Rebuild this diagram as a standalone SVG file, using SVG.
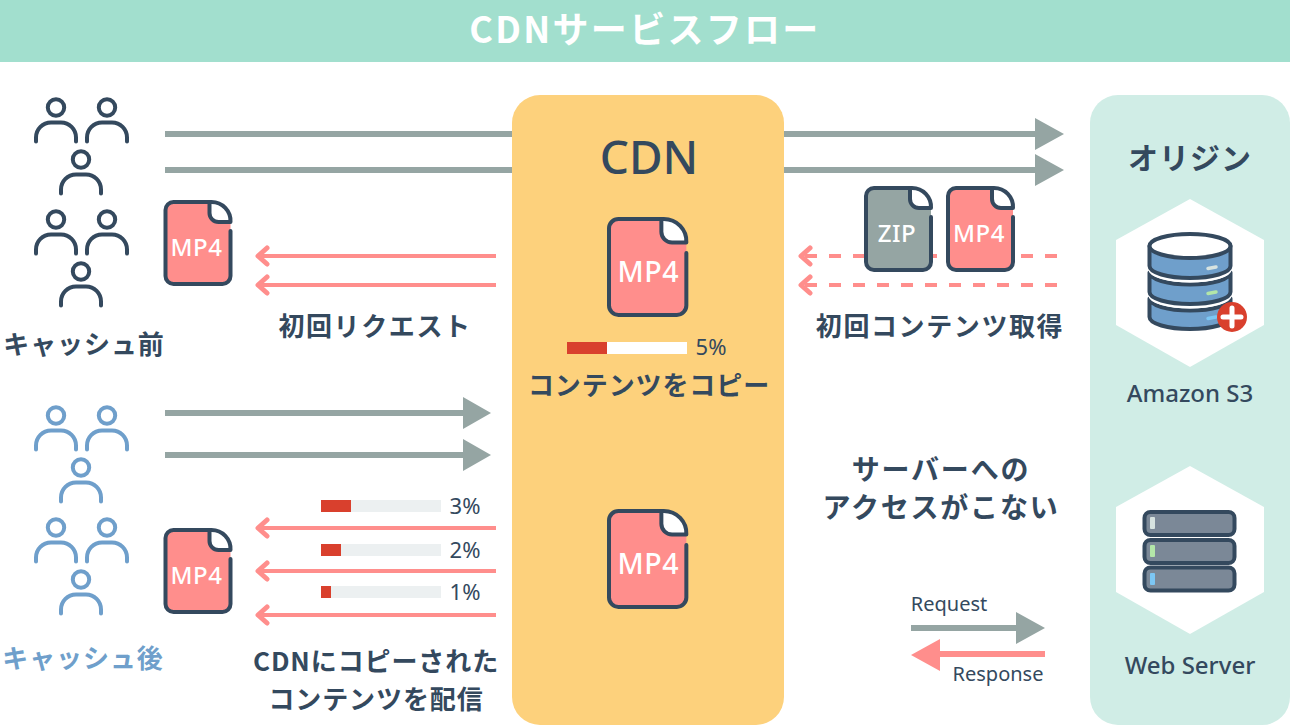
<svg xmlns="http://www.w3.org/2000/svg" width="1290" height="725" viewBox="0 0 1290 725">
<style>
text{font-family:"Noto Sans CJK JP","Noto Sans",sans-serif;font-weight:700;fill:#34495e;text-anchor:middle}
.l{font-family:"Noto Sans","Noto Sans CJK JP",sans-serif}
.g{stroke:#95a5a3;stroke-width:6;fill:none}
.p{stroke:#ff8e8c;stroke-width:4;fill:none}
.c{stroke:#ff8e8c;stroke-width:5;fill:none;stroke-linecap:round;stroke-linejoin:round}
.d{stroke-dasharray:12 12}
.ag{fill:#95a5a3}
.ic{stroke:currentColor;stroke-width:4;fill:none;stroke-linecap:round;stroke-linejoin:round}
.fn{font-family:"Noto Sans",sans-serif;font-weight:500;fill:#fff;font-size:24px;letter-spacing:.5px}
.t{font-size:26px;letter-spacing:.9px}
.w{letter-spacing:1.600px}
.x{font-size:28px;letter-spacing:1.800px}
.pc{font-family:"Noto Sans",sans-serif;font-size:22px;font-weight:400}
.rq{font-family:"Noto Sans",sans-serif;font-size:20px;font-weight:400}
.band{fill:#6f9fcb;stroke:#34495e;stroke-width:4;stroke-linejoin:round}
.gap{fill:none;stroke:#fff;stroke-width:2.500}
</style>
<defs>
<g id="person" class="ic"><circle cx="0" cy="0" r="8.200"/><path d="M-20 34v-4a15 15 0 0 1 15-15h10a15 15 0 0 1 15 15v4"/></g>
<g id="crowd">
<use href="#person" x="56" y="0"/><use href="#person" x="107" y="0"/><use href="#person" x="81" y="52"/>
<use href="#person" x="56" y="112"/><use href="#person" x="107" y="112"/><use href="#person" x="81" y="164"/>
</g>
<g id="outline">
<path d="M44 0H8a8 8 0 0 0-8 8v66a8 8 0 0 0 8 8h49a8 8 0 0 0 8-8V29" fill="none" stroke="#34495e" stroke-width="4" stroke-linecap="round" vector-effect="non-scaling-stroke"/>
<path d="M44 0h2a19 19 0 0 1 19 20H53a9 9 0 0 1-9-9z" fill="#fff" stroke="#34495e" stroke-width="4" stroke-linejoin="round" vector-effect="non-scaling-stroke"/>
</g>
<path id="sheet" d="M8 0h38a19 19 0 0 1 19 19v55a8 8 0 0 1-8 8H8a8 8 0 0 1-8-8V8a8 8 0 0 1 8-8z"/>
<g id="pinkfile"><use href="#sheet" fill="#ff8e8c"/><use href="#outline"/></g>
<g id="grayfile"><use href="#sheet" fill="#95a5a3"/><use href="#outline"/></g>
<path id="hexa" d="M74 0l74 41v85l-74 42L0 126V41z" fill="#fff"/>
</defs>
<g id="header"><rect width="1290" height="62" fill="#a2dfce"/><text x="645" y="43" font-size="36" letter-spacing="2.300" style="fill:#fff">CDNサービスフロー</text></g>
<g id="connectors">
<path class="g" d="M165 134H1040M165 170H1040M165 413H466M165 455H466M911 628H1020"/>
<path class="ag" d="M1035 118l29 16-29 16zM1035 154l29 16-29 16zM463 397l28 16-28 16zM463 439l28 16-28 16zM1016 612l29 16-29 16z"/>
<path class="p" d="M496 256H260M496 285H260M496 528H260M496 571H260M496 615H260"/>
<path class="p d" d="M1057 256H804M1057 285H804"/>
<path class="c" d="M267 248l-9 8 9 8M267 277l-9 8 9 8M267 520l-9 8 9 8M267 563l-9 8 9 8M267 607l-9 8 9 8M810 248l-9 8 9 8M810 277l-9 8 9 8"/>
<path d="M1045 654H935" stroke="#ff8e8c" stroke-width="6" fill="none"/><path fill="#ff8e8c" d="M940 639v32l-29-16z"/>
</g>
<g id="cdn"><rect x="512" y="95" width="272" height="630" rx="28" fill="#fdd17c"/>
<text x="649" y="174" font-size="46" class="l" style="font-weight:500">CDN</text>
<g transform="translate(609 219) scale(1.190 1.170)"><use href="#pinkfile"/><text class="fn" x="33" y="54">MP4</text></g>
<rect x="567" y="342" width="120" height="12" fill="#fff"/><rect x="567" y="342" width="40" height="12" fill="#d9402d"/>
<text class="pc" x="711" y="355">5%</text>
<text class="t" x="649" y="395">コンテンツをコピー</text>
<g transform="translate(609 511) scale(1.190 1.170)"><use href="#pinkfile"/><text class="fn" x="33" y="54">MP4</text></g>
</g>
<g id="origin"><rect x="1090" y="95" width="200" height="630" rx="28" fill="#d0ede6"/>
<text x="1190" y="169" font-size="30" letter-spacing="1">オリジン</text>
<use href="#hexa" x="1116" y="199"/>
<path class="band" d="M1149.500 298.500v18.500a40.500 12 0 0 0 81 0v-18.500a40.500 12 0 0 1-81 0z"/>
<path class="gap" d="M1149.500 295.200a40.500 12 0 0 0 81 0"/>
<path class="band" d="M1149.500 272.500v19.500a40.500 12 0 0 0 81 0v-19.500a40.500 12 0 0 1-81 0z"/>
<path class="gap" d="M1149.500 269.200a40.500 12 0 0 0 81 0"/>
<path class="band" d="M1149.500 246v20a40.500 12 0 0 0 81 0v-20z"/>
<ellipse cx="1190" cy="246" rx="40.500" ry="12" fill="#fff" stroke="#34495e" stroke-width="4"/>
<path d="M1208 268.500l8-1.500" stroke="#d7e3e0" stroke-width="3.500" stroke-linecap="round"/><path d="M1208 293.500l8-1.500" stroke="#b3e6a8" stroke-width="3.500" stroke-linecap="round"/><path d="M1208 318.500l8-1.500" stroke="#7cc7f4" stroke-width="3.500" stroke-linecap="round"/>
<circle cx="1232" cy="317" r="15" fill="#d9402d"/><path d="M1223 317h18M1232 308v18" stroke="#fff" stroke-width="5" stroke-linecap="round"/>
<text x="1190" y="402" font-size="24" class="l" style="font-weight:500">Amazon S3</text>
<use href="#hexa" x="1116" y="466"/>
<g fill="#7b8897" stroke="#34495e" stroke-width="4"><rect x="1144.500" y="512" width="90" height="23" rx="6"/><rect x="1144.500" y="540" width="90" height="23" rx="6"/><rect x="1144.500" y="567.500" width="90" height="23" rx="6"/></g>
<rect x="1150" y="517" width="5" height="12" rx="1" fill="#d7e3e0"/><rect x="1150" y="545" width="5" height="12" rx="1" fill="#b3e6a8"/><rect x="1150" y="573" width="5" height="12" rx="1" fill="#7cc7f4"/>
<text x="1190" y="674" font-size="24" class="l" style="font-weight:500">Web Server</text>
</g>
<g id="users-before" color="#34495e"><use href="#crowd" y="107.500"/><text class="t" x="84" y="354">キャッシュ前</text></g>
<g id="users-after" color="#6f9fcb"><use href="#crowd" y="415.500"/><text class="t" x="83" y="668" style="fill:#6f9fcb">キャッシュ後</text></g>
<g id="file-left-top"><g transform="translate(165.500 202)"><use href="#pinkfile"/><text class="fn" x="31" y="54">MP4</text></g></g>
<g id="file-left-bottom"><g transform="translate(165.500 530)"><use href="#pinkfile"/><text class="fn" x="31" y="54">MP4</text></g></g>
<g id="file-zip"><g transform="translate(866 188)"><use href="#grayfile"/><text class="fn" x="31" y="54">ZIP</text></g></g>
<g id="file-mp4"><g transform="translate(948 188)"><use href="#pinkfile"/><text class="fn" x="31" y="54">MP4</text></g></g>
<g id="labels">
<text class="t w" x="375" y="336">初回リクエスト</text>
<text class="t w" x="940" y="336">初回コンテンツ取得</text>
<text class="x" x="941" y="480">サーバーへの</text>
<text class="x" x="941" y="518">アクセスがこない</text>
<text class="t" x="376" y="671">CDNにコピーされた</text>
<text class="t" x="376" y="709">コンテンツを配信</text>
<text x="949" y="611" class="rq">Request</text>
<text x="998" y="681" class="rq">Response</text>
</g>
<g id="progress">
<rect x="321" y="500" width="120" height="12" fill="#ecf0f1"/><rect x="321" y="500" width="30" height="12" fill="#d9402d"/><text class="pc" x="465" y="514">3%</text>
<rect x="321" y="544" width="120" height="12" fill="#ecf0f1"/><rect x="321" y="544" width="20" height="12" fill="#d9402d"/><text class="pc" x="465" y="558">2%</text>
<rect x="321" y="586" width="120" height="12" fill="#ecf0f1"/><rect x="321" y="586" width="10" height="12" fill="#d9402d"/><text class="pc" x="465" y="600">1%</text>
</g>
</svg>
